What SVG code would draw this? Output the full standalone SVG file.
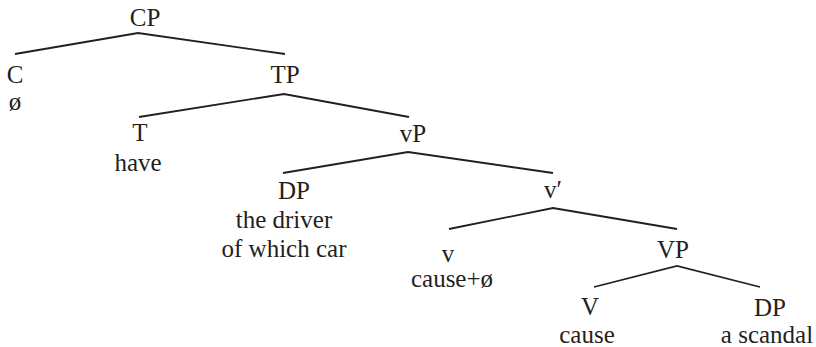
<svg xmlns="http://www.w3.org/2000/svg" width="816" height="347" viewBox="0 0 816 347">
<style>
text{font-family:"Liberation Serif","Times New Roman",serif;font-size:25px;fill:#231f20;text-anchor:middle}
.e{stroke:#231f20;stroke-width:1.8;fill:none;stroke-linejoin:miter}
</style>
<rect width="816" height="347" fill="#fff"/>
<g id="connectors">
<polyline class="e" points="15,54 138,33 285,54"/>
<polyline class="e" points="139,117 284,94 409,117"/>
<polyline class="e" points="283,173 408,152 553,173"/>
<polyline class="e" points="449,229 553,208 677,229"/>
<polyline class="e" points="594,287 677,266 760,287"/>
</g>
<g id="CP"><text x="145" y="26">CP</text></g>
<g id="C"><text x="15" y="83">C</text><text x="15" y="110">ø</text></g>
<g id="TP"><text x="285" y="83">TP</text></g>
<g id="T"><text x="140" y="141">T</text><text x="138" y="171">have</text></g>
<g id="vP"><text x="413" y="142">vP</text></g>
<g id="DP1"><text x="294" y="199">DP</text><text x="284" y="228">the driver</text><text x="284" y="257">of which car</text></g>
<g id="vbar"><text x="553" y="198">v′</text></g>
<g id="v"><text x="448" y="262">v</text><text x="452" y="287">cause+ø</text></g>
<g id="VP"><text x="673" y="258">VP</text></g>
<g id="V"><text x="590" y="315">V</text><text x="587" y="343">cause</text></g>
<g id="DP2"><text x="770" y="316">DP</text><text x="767" y="343">a scandal</text></g>
</svg>
